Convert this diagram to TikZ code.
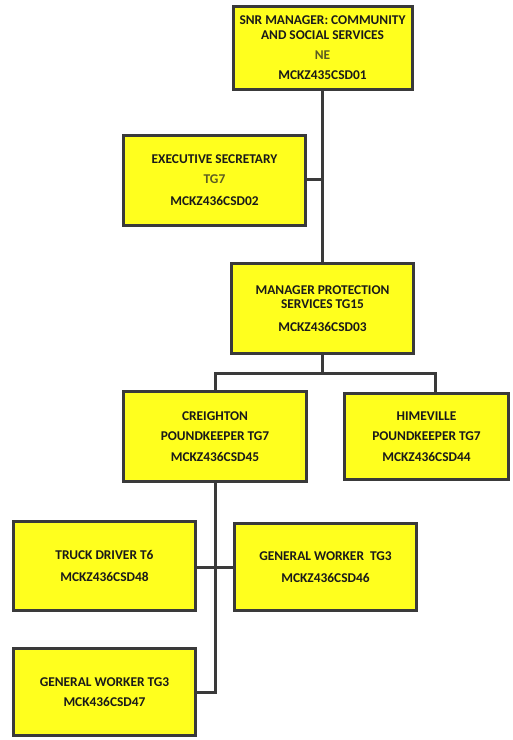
\documentclass[tikz,border=0pt]{standalone}
\usepackage{fontspec}
\setmainfont{Carlito}
\definecolor{boxfill}{HTML}{FFFF1E}
\definecolor{boxline}{HTML}{3A3A3A}
\definecolor{txt}{HTML}{1A1A1A}
\definecolor{olive}{HTML}{5C5C22}
\begin{document}
\begin{tikzpicture}[x=1pt,y=-1pt,
  post/.style={draw=boxline,line width=3pt,fill=boxfill,rectangle,inner sep=0pt,
    font=\bfseries\fontsize{13.4}{15}\selectfont,text=txt,align=center},
  link/.style={draw=boxline,line width=3pt}]
\useasboundingbox (0,0) rectangle (513,740);
\fill[white] (0,0) rectangle (513,740);
\node[post,minimum width=179pt,minimum height=83pt] (b1) at (322.5,48)
  {SNR MANAGER: COMMUNITY\\[0pt]AND SOCIAL SERVICES\\[5pt]{\color{olive}NE}\\[5pt]MCKZ435CSD01};
\node[post,minimum width=182pt,minimum height=90pt] (b2) at (214.5,180.5)
  {EXECUTIVE SECRETARY\\[5pt]{\color{olive}TG7}\\[7pt]MCKZ436CSD02};
\node[post,minimum width=182pt,minimum height=90pt] (b3) at (322.5,308.5)
  {MANAGER PROTECTION\\[-1pt]SERVICES TG15\\[8pt]MCKZ436CSD03};
\node[post,minimum width=183pt,minimum height=90pt] (b4) at (215,436.5)
  {CREIGHTON\\[5pt]POUNDKEEPER TG7\\[6pt]MCKZ436CSD45};
\node[post,minimum width=164pt,minimum height=86pt] (b5) at (426.5,436.5)
  {HIMEVILLE\\[5pt]POUNDKEEPER TG7\\[6pt]MCKZ436CSD44};
\node[post,minimum width=182pt,minimum height=89pt] (b6) at (104.5,566)
  {TRUCK DRIVER T6\\[7pt]MCKZ436CSD48};
\node[post,minimum width=182pt,minimum height=87pt] (b7) at (325.5,567)
  {GENERAL WORKER\ \ TG3\\[7pt]MCKZ436CSD46};
\node[post,minimum width=182pt,minimum height=87pt] (b8) at (104.5,692)
  {GENERAL WORKER TG3\\[5pt]MCK436CSD47};
\coordinate (ex) at (322.5,179);
\coordinate (bl) at (215,373);
\coordinate (br) at (435,373);
\coordinate (mid) at (322.5,373);
\coordinate (bend) at (215,692);
\draw[link] (b1.south) -- (b3.north);
\draw[link] (b2.east |- ex) -- (ex);
\draw[link] (b3.south) -- (mid);
\draw[link] (b4.north) -- (bl) -- (br) -- (br |- b5.north);
\draw[link] (b4.south) -- (bend) -- (b8.east |- bend);
\draw[link] (b6.east |- b7.west) -- (b7.west);
\end{tikzpicture}
\end{document}
